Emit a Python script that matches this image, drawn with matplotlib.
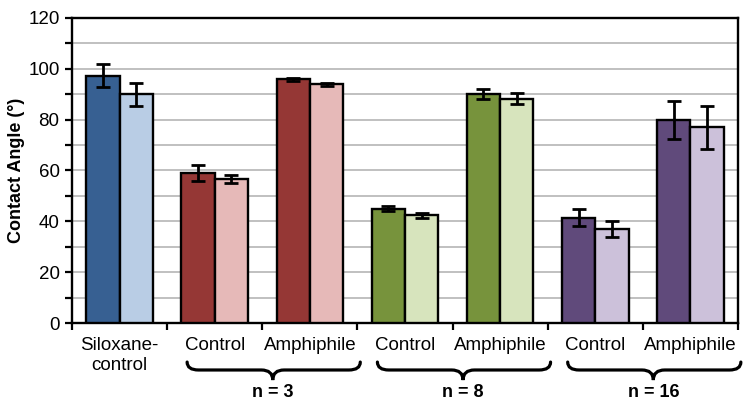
import numpy as np
import matplotlib
matplotlib.use("Agg")
import matplotlib.pyplot as plt
from matplotlib.path import Path
from matplotlib.patches import PathPatch
from matplotlib.transforms import blended_transform_factory

plt.rcParams["font.family"] = ["Liberation Sans", "DejaVu Sans"]

# values
categories = ["Siloxane-\ncontrol", "Control", "Amphiphile", "Control",
              "Amphiphile", "Control", "Amphiphile"]
dark_vals = [97.3, 59.0, 95.8, 45.0, 90.2, 41.5, 80.0]
dark_err = [4.5, 3.0, 0.6, 1.0, 2.0, 3.2, 7.5]
light_vals = [90.0, 56.5, 93.9, 42.3, 88.3, 37.0, 77.0]
light_err = [4.5, 1.6, 0.6, 1.0, 2.2, 3.0, 8.5]
dark_colors = ["#376092", "#953735", "#953735", "#77933c", "#77933c",
               "#604a7b", "#604a7b"]
light_colors = ["#b9cde5", "#e6b9b8", "#e6b9b8", "#d7e4bd", "#d7e4bd",
                "#ccc1da", "#ccc1da"]
group_labels = ["n = 3", "n = 8", "n = 16"]
group_spans = [(1, 2), (3, 4), (5, 6)]

fig = plt.figure(figsize=(7.5, 4.08), dpi=100)
ax = fig.add_axes([0.096, 0.2083, 0.888, 0.7477])

x = np.arange(len(categories))
w = 0.35
ax.bar(x - w / 2, dark_vals, w, color=dark_colors, edgecolor="black",
       linewidth=1.7, zorder=3)
ax.bar(x + w / 2, light_vals, w, color=light_colors, edgecolor="black",
       linewidth=1.7, zorder=3)
ax.errorbar(x - w / 2, dark_vals, yerr=dark_err, fmt="none", ecolor="black",
            elinewidth=2.0, capsize=5, capthick=2.0, zorder=4)
ax.errorbar(x + w / 2, light_vals, yerr=light_err, fmt="none", ecolor="black",
            elinewidth=2.0, capsize=5, capthick=2.0, zorder=4)

ax.set_xlim(-0.5, len(categories) - 0.5)
ax.set_ylim(0, 120)
ax.set_yticks(np.arange(0, 121, 20))
ax.set_yticks(np.arange(10, 120, 20), minor=True)
ax.grid(axis="y", which="both", color="#c0c0c0", linewidth=1.4, zorder=0)
ax.set_axisbelow(True)

# category boundaries as ticks, labels at the centers
ax.set_xticks(np.arange(-0.5, len(categories), 1.0))
ax.set_xticklabels([])
ax.set_xticks(x, minor=True)
ax.set_xticklabels(categories, minor=True)
ax.tick_params(axis="x", which="major", direction="out", length=5, width=1.6)
ax.tick_params(axis="x", which="minor", length=0, pad=10, labelsize=13.5)
ax.tick_params(axis="y", which="both", direction="out", length=5, width=1.6,
               labelsize=13.5, pad=4)

for s in ax.spines.values():
    s.set_linewidth(1.7)
    s.set_color("black")

ax.set_ylabel("Contact Angle (°)", fontsize=13, fontweight="bold")
ax.yaxis.set_label_coords(-0.071, 0.5)

# curly braces under the grouped categories
trans = blended_transform_factory(ax.transData, ax.transAxes)
y_top, y_mid, y_tip = -0.128, -0.154, -0.187
r = 0.12
for (a, b), lab in zip(group_spans, group_labels):
    x0 = a - 0.29
    x1 = b + 0.53
    xm = (a + b) / 2 + 0.11
    verts = [(x0, y_top), (x0, y_mid), (x0 + r, y_mid),
             (xm - r, y_mid), (xm, y_mid), (xm, y_tip),
             (xm, y_mid), (xm + r, y_mid),
             (x1 - r, y_mid), (x1, y_mid), (x1, y_top)]
    codes = [Path.MOVETO, Path.CURVE3, Path.CURVE3,
             Path.LINETO, Path.CURVE3, Path.CURVE3,
             Path.CURVE3, Path.CURVE3,
             Path.LINETO, Path.CURVE3, Path.CURVE3]
    ax.add_patch(PathPatch(Path(verts, codes), transform=trans, fill=False,
                           edgecolor="black", linewidth=2.3, clip_on=False,
                           capstyle="round"))
    ax.text(xm, -0.228, lab, transform=trans, ha="center", va="center",
            fontsize=13, fontweight="bold")

fig.savefig("out.png", dpi=100)
